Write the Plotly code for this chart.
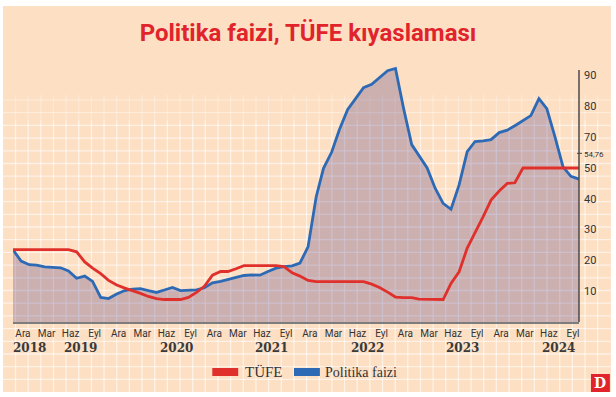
import plotly.graph_objects as go
import pandas as pd

# ---------------- data ----------------
months = pd.date_range("2018-12-01", periods=72, freq="MS")

tufe = [23.5, 23.5, 23.5, 23.5, 23.5, 23.5, 23.5, 23.5, 22.8, 19.5,
        17.5, 15.7, 13.5, 12.0, 11.0, 10.3, 9.3, 8.3, 7.6, 7.3,
        7.3, 7.3, 8.0, 9.6, 11.6, 15.2, 16.4, 16.4, 17.3, 18.3,
        18.3, 18.3, 18.3, 18.3, 18.0, 16.0, 14.9, 13.5, 13.1, 13.1,
        13.1, 13.1, 13.1, 13.1, 13.1, 12.3, 11.2, 9.7, 8.1, 7.9,
        7.9, 7.4, 7.3, 7.3, 7.3, 12.5, 16.3, 24.0, 28.8, 34.2,
        39.6, 42.5, 45.0, 45.2, 50.0, 50.0, 50.0, 50.0, 50.0, 50.0,
        50.0, 50.0]

politika = [23.4, 19.8, 18.6, 18.5, 17.9, 17.8, 17.6, 16.6, 14.2, 14.9,
            13.2, 8.0, 7.6, 9.1, 10.2, 10.7, 10.8, 10.2, 9.6, 10.4,
            11.2, 10.2, 10.3, 10.4, 11.1, 12.7, 13.2, 13.8, 14.3, 15.1,
            15.3, 15.2, 16.4, 17.5, 18.0, 18.2, 19.1, 24.4, 40.6, 49.9,
            55.1, 62.5, 68.9, 72.6, 76.1, 77.2, 79.3, 81.6, 82.3, 69.3,
            57.6, 53.8, 50.0, 43.5, 38.5, 36.6, 44.5, 55.3, 58.6, 58.8,
            59.2, 61.5, 62.3, 63.7, 65.4, 67.0, 72.5, 69.3, 60.2, 50.4,
            47.3, 46.4]

tick_months = pd.date_range("2018-12-01", "2024-09-01", freq="3MS")
tick_names = ["Ara", "Mar", "Haz", "Eyl"] * 6
years = [2018, 2019, 2020, 2021, 2022, 2023, 2024]
y_ticks = [10, 20, 30, 40, 50, 54.76, 60, 70, 80]
y_ticktext = ["10", "20", "30", "40", "50",
              '<span style="font-size:8px">54,76</span>', "70", "80", "90"]
series_names = ["TÜFE", "Politika faizi"]
title_text = "Politika faizi, TÜFE kıyaslaması"

# ---------------- layout helpers (pixel geometry) ----------------
W, H = 616, 397
L, R, T, B = 13, 581, 40, 322
PX_PER_UNIT = 3.08
y_top = (B - T) / PX_PER_UNIT

RED = "#E0302B"
BLUE = "#2D6AB6"
PEACH = "#FDDFC3"


def px(x):
    return (x - L) / (R - L)


def py(y):
    return (B - y) / (B - T)


shapes = []
# peach panel
shapes.append(dict(type="rect", xref="paper", yref="paper", layer="below",
                   x0=px(3), x1=px(613), y0=py(392), y1=py(6),
                   fillcolor=PEACH, line=dict(width=0)))
# grid (decoration)
gx = 15.5
while gx < 612:
    shapes.append(dict(type="line", xref="paper", yref="paper", layer="below",
                       x0=px(gx), x1=px(gx), y0=py(95), y1=py(120),
                       line=dict(color="rgba(255,255,255,0.3)", width=1.3)))
    shapes.append(dict(type="line", xref="paper", yref="paper", layer="below",
                       x0=px(gx), x1=px(gx), y0=py(120), y1=py(392),
                       line=dict(color="rgba(255,255,255,0.6)", width=1.3)))
    gx += 12.7
gy = 100.0
k = 0
while gy < 391:
    a = 0.25 if k == 0 else (0.4 if k == 1 else 0.6)
    shapes.append(dict(type="line", xref="paper", yref="paper", layer="below",
                       x0=px(3), x1=px(613), y0=py(gy), y1=py(gy),
                       line=dict(color=f"rgba(255,255,255,{a})", width=1.3)))
    gy += 12.7
    k += 1
# right axis line
shapes.append(dict(type="line", xref="paper", yref="y",
                   x0=1, x1=1, y0=0, y1=81.8,
                   line=dict(color="#4a4a4a", width=1.5)))
# small tick for 54,76
shapes.append(dict(type="line", xref="paper", yref="y",
                   x0=px(579), x1=px(584), y0=54.76, y1=54.76,
                   line=dict(color="#4a4a4a", width=1)))
# legend swatches
shapes.append(dict(type="rect", xref="paper", yref="paper",
                   x0=px(213), x1=px(239), y0=py(376), y1=py(368),
                   fillcolor=RED, line=dict(width=0)))
shapes.append(dict(type="rect", xref="paper", yref="paper",
                   x0=px(295), x1=px(321), y0=py(376), y1=py(368),
                   fillcolor=BLUE, line=dict(width=0)))
# logo box
shapes.append(dict(type="rect", xref="paper", yref="paper",
                   x0=px(593), x1=px(612), y0=py(392), y1=py(374),
                   fillcolor="#E1242B", line=dict(width=0)))

annotations = []
for yr in years:
    if yr == years[0]:
        annotations.append(dict(x=months[0], xref="x", y=py(348), yref="paper",
                                text=f"<b>{yr}</b>", showarrow=False,
                                xanchor="left", yanchor="middle", xshift=-2,
                                font=dict(family="DejaVu Serif", size=12, color="#3a3a3a")))
    else:
        annotations.append(dict(x=pd.Timestamp(f"{yr}-08-15"), xref="x", y=py(348),
                                yref="paper", text=f"<b>{yr}</b>", showarrow=False,
                                xanchor="center", yanchor="middle",
                                font=dict(family="DejaVu Serif", size=12, color="#3a3a3a")))
annotations.append(dict(x=px(244), xref="paper", y=py(372), yref="paper",
                        text=series_names[0], showarrow=False, xanchor="left",
                        yanchor="middle",
                        font=dict(family="Liberation Serif", size=15, color="#333")))
annotations.append(dict(x=px(324), xref="paper", y=py(372), yref="paper",
                        text=series_names[1], showarrow=False, xanchor="left",
                        yanchor="middle",
                        font=dict(family="Liberation Serif", size=14, color="#333")))
annotations.append(dict(x=px(602.5), xref="paper", y=py(383), yref="paper",
                        text="<b>D</b>", showarrow=False, xanchor="center",
                        yanchor="middle",
                        font=dict(family="DejaVu Serif", size=14, color="white")))

fig = go.Figure()
fig.add_trace(go.Scatter(x=months, y=politika, name=series_names[1], mode="lines",
                         fill="tozeroy", fillcolor="rgba(60,35,120,0.25)",
                         line=dict(color=BLUE, width=2.8)))
fig.add_trace(go.Scatter(x=months, y=tufe, name=series_names[0], mode="lines",
                         line=dict(color=RED, width=2.8)))

fig.update_layout(
    width=W, height=H,
    margin=dict(l=L, r=W - R, t=T, b=H - B),
    paper_bgcolor="white",
    plot_bgcolor="rgba(0,0,0,0)",
    showlegend=False,
    title=dict(text=f"<b>{title_text}</b>", x=0.5, xanchor="center",
               y=1 - 33 / H, yanchor="middle",
               font=dict(family="Roboto", size=24, color="#E1242B")),
    shapes=shapes,
    annotations=annotations,
    xaxis=dict(type="date", range=[months[0], months[-1]],
               showgrid=False, zeroline=False,
               showline=True, linecolor="#7d7d7d", linewidth=2,
               tickvals=[m + pd.Timedelta(days=38) for m in tick_months],
               ticktext=tick_names, ticks="", ticklabelstandoff=1,
               tickfont=dict(family="Roboto", size=10, color="#333")),
    yaxis=dict(range=[0, y_top], side="right", showgrid=False, zeroline=False,
               showline=False, tickvals=y_ticks, ticktext=y_ticktext,
               ticks="", ticklabelstandoff=4,
               tickfont=dict(family="Roboto", size=11, color="#333")),
)

fig.write_html("out.html",
               config={"displayModeBar": False},
               post_script="document.body.style.margin='0';"
                           "document.body.style.overflow='hidden';")
